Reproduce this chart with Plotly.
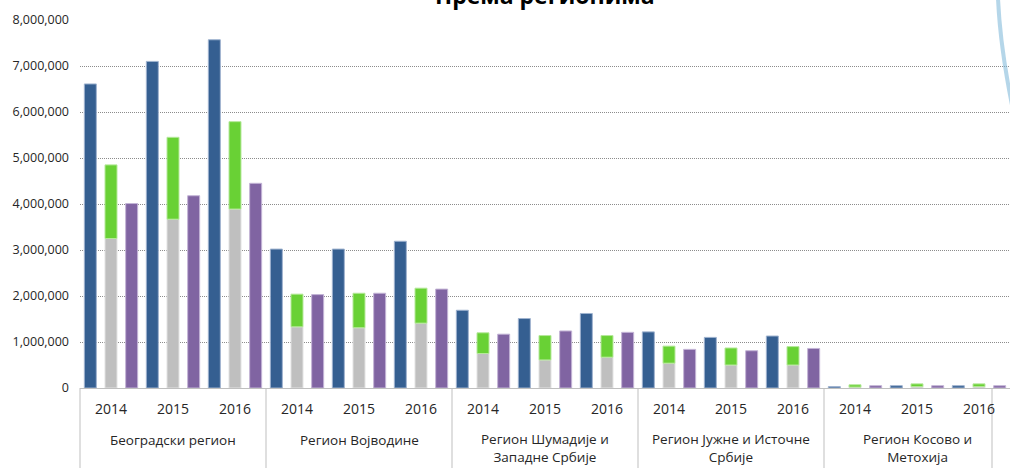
import plotly.graph_objects as go

regions = ["Београдски регион", "Регион Војводине", "Регион Шумадије и\nЗападне Србије",
           "Регион Јужне и Источне\nСрбије", "Регион Косово и\nМетохија"]
years = ["2014", "2015", "2016"]

# values per region x year (in order 2014, 2015, 2016)
blue = [6610000, 7100000, 7570000,
        3020000, 3020000, 3190000,
        1690000, 1510000, 1620000,
        1220000, 1100000, 1130000,
        30000, 50000, 50000]
gray = [3250000, 3670000, 3890000,
        1330000, 1310000, 1410000,
        750000, 610000, 670000,
        540000, 500000, 500000,
        20000, 30000, 30000]
green_top = [4850000, 5450000, 5790000,
             2040000, 2060000, 2170000,
             1200000, 1140000, 1140000,
             910000, 870000, 900000,
             70000, 90000, 90000]
purple = [4010000, 4180000, 4450000,
          2030000, 2060000, 2150000,
          1170000, 1240000, 1210000,
          840000, 810000, 860000,
          50000, 50000, 50000]

green = [t - g for t, g in zip(green_top, gray)]

xr = [r.replace("\n", " ") for r in regions for _ in years]
xy = [y for _ in regions for y in years]
x = [xr, xy]

C_BLUE = "#355F91"
C_GRAY = "#BFBFBF"
C_GREEN = "#69D135"
C_PURPLE = "#8064A2"
TXT = "#262626"

fig = go.Figure()
fig.add_trace(go.Bar(x=x, y=blue, offsetgroup="a", marker=dict(color=C_BLUE, line=dict(color="#9FB3CF", width=1)), name="a"))
fig.add_trace(go.Bar(x=x, y=gray, offsetgroup="b", marker=dict(color=C_GRAY, line=dict(color="#E2E2E2", width=1)), name="b"))
fig.add_trace(go.Bar(x=x, y=green, base=gray, offsetgroup="b", marker=dict(color=C_GREEN, line=dict(color="#B5E89A", width=1)), name="c"))
fig.add_trace(go.Bar(x=x, y=purple, offsetgroup="c", marker=dict(color=C_PURPLE, line=dict(color="#C3B4D6", width=1)), name="d"))

L, T, B = 80, 20, 80
W, H = 1010, 468
ph = H - T - B
pw = W - L
n_cat = len(xr)

def px2paper_x(p):
    return (p - L) / pw

def px2paper_y(p):
    return (H - B - p) / ph

annotations = [dict(
    text="<b>Према регионима</b>", x=px2paper_x(545), y=px2paper_y(-5),
    xref="paper", yref="paper", xanchor="center", yanchor="middle",
    showarrow=False, font=dict(size=23, color="#000000"),
)]
for i, yr in enumerate(xy):
    annotations.append(dict(
        text=yr, x=(i + 0.5) / n_cat, y=px2paper_y(408), xref="paper", yref="paper",
        xanchor="center", yanchor="middle", showarrow=False,
        font=dict(size=14, color=TXT)))
for r, name in enumerate(regions):
    nlines = name.count("\n") + 1
    annotations.append(dict(
        text=name.replace("\n", "<br>"), x=(r * len(years) + len(years) / 2) / n_cat,
        y=px2paper_y(440 + 8 * (nlines - 1)),
        xref="paper", yref="paper", xanchor="center", yanchor="middle", showarrow=False,
        font=dict(size=13.5, color=TXT)))

shapes = []
for r in range(len(regions)):
    xp = r * len(years) / n_cat
    shapes.append(dict(type="line", xref="paper", yref="paper", x0=xp, x1=xp,
                       y0=0, y1=px2paper_y(470), line=dict(color="#BFBFBF", width=1)))
shapes.append(dict(type="line", xref="paper", yref="paper",
                   x0=px2paper_x(992), x1=px2paper_x(992), y0=0, y1=px2paper_y(470),
                   line=dict(color="#BFBFBF", width=1)))
shapes.append(dict(type="path", xref="paper", yref="paper",
                   path=f"M {px2paper_x(998)} {px2paper_y(-2)} Q {px2paper_x(1000)} {px2paper_y(45)} {px2paper_x(1012)} {px2paper_y(105)}",
                   line=dict(color="rgba(120,180,215,0.55)", width=4)))

fig.update_layout(
    width=W, height=H,
    margin=dict(l=L, r=0, t=T, b=B, pad=0),
    paper_bgcolor="white", plot_bgcolor="white",
    barmode="group", bargap=0.0, bargroupgap=0.42,
    showlegend=False,
    font=dict(family="Open Sans", size=13, color=TXT),
    xaxis=dict(
        type="multicategory", automargin=False,
        showline=True, linecolor="#BFBFBF", linewidth=1,
        showticklabels=False, showdividers=False,
        showgrid=False,
    ),
    yaxis=dict(
        range=[0, 8000000], dtick=1000000, tickformat=",d", automargin=False,
        showgrid=True, gridcolor="#8C8C8C", griddash="1px,1px", gridwidth=1,
        zeroline=False, showline=False,
        tickfont=dict(size=12.5, color=TXT),
        ticklabelstandoff=10,
    ),
    annotations=annotations,
    shapes=shapes,
)

fig.write_html("out.html", config={"displayModeBar": False},
               post_script="document.body.style.margin='0';document.body.style.overflow='hidden';")
